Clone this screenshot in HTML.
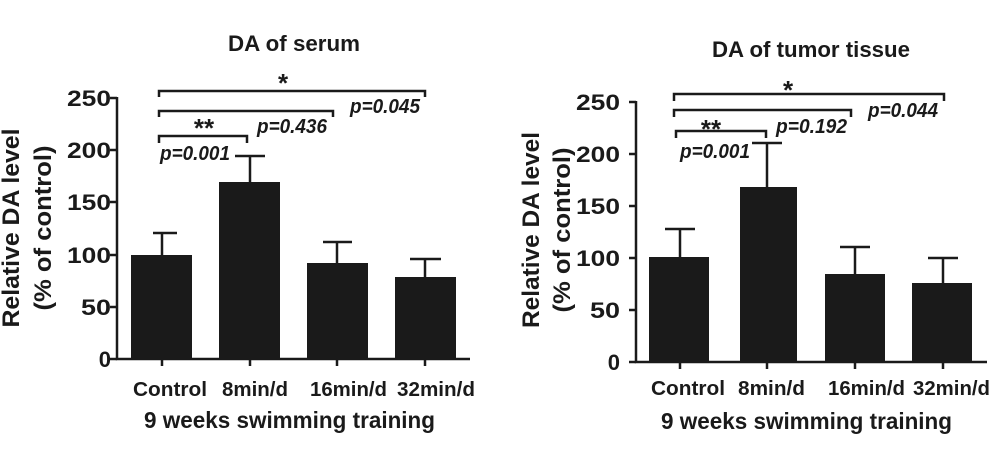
<!DOCTYPE html>
<html><head><meta charset="utf-8"><style>
html,body{margin:0;padding:0;background:#fff}
svg{display:block}
text{font-family:"Liberation Sans",Arial,sans-serif;font-weight:bold;fill:#1a1a1a}
.t{font-size:22px}
.it{font-style:italic;font-size:20px}
</style></head><body>
<svg width="1000" height="462" viewBox="0 0 1000 462">
<g stroke="#1a1a1a" fill="none" stroke-width="2.5">
<path d="M117,97 V359 H470"/>
<path d="M110,98H117 M110,150H117 M110,202H117 M110,255H117 M110,307H117 M110,359H117"/>
<path d="M162,359V366 M250,359V366 M337,359V366 M425,359V366"/>
<path d="M162,255V233 M153,233H177"/>
<path d="M250,182V156 M235,156H265"/>
<path d="M337,263V242 M323,242H352"/>
<path d="M425,277V259 M410,259H441"/>
<path d="M159,97V91H425V97"/>
<path d="M159,117V111H333V117"/>
<path d="M159,143V136H247V143"/>
<path d="M636,101 V362 H987"/>
<path d="M629,102H636 M629,154H636 M629,206H636 M629,258H636 M629,310H636 M629,362H636"/>
<path d="M680,362V369 M767,362V369 M855,362V369 M943,362V369"/>
<path d="M680,257V229 M665,229H695"/>
<path d="M767,187V143 M752,143H782"/>
<path d="M855,274V247 M840,247H870"/>
<path d="M943,283V258 M928,258H958"/>
<path d="M674,101V94H944V101"/>
<path d="M674,117V110H851V117"/>
<path d="M676,138V131H766V138"/>
</g>
<g fill="#1a1a1a">
<rect x="131" y="255" width="61" height="104"/>
<rect x="219" y="182" width="61" height="177"/>
<rect x="307" y="263" width="61" height="96"/>
<rect x="395" y="277" width="61" height="82"/>
<rect x="649" y="257" width="60" height="105"/>
<rect x="740" y="187" width="57" height="175"/>
<rect x="825" y="274" width="60" height="88"/>
<rect x="912" y="283" width="60" height="79"/>
</g>
<text x="228" y="51" font-size="22" textLength="132" lengthAdjust="spacingAndGlyphs">DA of serum</text>
<g class="t" text-anchor="end">
<text x="111" y="106" textLength="44" lengthAdjust="spacingAndGlyphs">250</text><text x="111" y="158" textLength="44" lengthAdjust="spacingAndGlyphs">200</text><text x="111" y="210" textLength="44" lengthAdjust="spacingAndGlyphs">150</text>
<text x="111" y="263" textLength="44" lengthAdjust="spacingAndGlyphs">100</text><text x="111" y="315" textLength="30" lengthAdjust="spacingAndGlyphs">50</text><text x="111" y="367">0</text>
</g>
<text transform="translate(19,228) rotate(-90)" font-size="24" text-anchor="middle" textLength="199" lengthAdjust="spacingAndGlyphs">Relative DA level</text>
<text transform="translate(51,228) rotate(-90)" font-size="24" text-anchor="middle" textLength="165" lengthAdjust="spacingAndGlyphs">(% of control)</text>
<text x="133" y="396" font-size="20" textLength="74" lengthAdjust="spacingAndGlyphs">Control</text>
<text x="222" y="396" font-size="20" textLength="66" lengthAdjust="spacingAndGlyphs">8min/d</text>
<text x="310" y="396" font-size="20" textLength="77" lengthAdjust="spacingAndGlyphs">16min/d</text>
<text x="397" y="396" font-size="20" textLength="78" lengthAdjust="spacingAndGlyphs">32min/d</text>
<text x="144" y="428" font-size="23" textLength="291" lengthAdjust="spacingAndGlyphs">9 weeks swimming training</text>
<text x="283" y="92" font-size="26" text-anchor="middle">*</text>
<text x="204" y="137" font-size="26" text-anchor="middle">**</text>
<text class="it" x="160" y="160" textLength="70" lengthAdjust="spacingAndGlyphs">p=0.001</text>
<text class="it" x="257" y="133" textLength="70" lengthAdjust="spacingAndGlyphs">p=0.436</text>
<text class="it" x="350" y="113" textLength="70" lengthAdjust="spacingAndGlyphs">p=0.045</text>
<text x="712" y="57" font-size="22" textLength="198" lengthAdjust="spacingAndGlyphs">DA of tumor tissue</text>
<g class="t" text-anchor="end">
<text x="620" y="110" textLength="44" lengthAdjust="spacingAndGlyphs">250</text><text x="620" y="162" textLength="44" lengthAdjust="spacingAndGlyphs">200</text><text x="620" y="214" textLength="44" lengthAdjust="spacingAndGlyphs">150</text>
<text x="620" y="266" textLength="44" lengthAdjust="spacingAndGlyphs">100</text><text x="620" y="318" textLength="30" lengthAdjust="spacingAndGlyphs">50</text><text x="620" y="370">0</text>
</g>
<text transform="translate(539,230) rotate(-90)" font-size="24" text-anchor="middle" textLength="196" lengthAdjust="spacingAndGlyphs">Relative DA level</text>
<text transform="translate(570,230) rotate(-90)" font-size="24" text-anchor="middle" textLength="165" lengthAdjust="spacingAndGlyphs">(% of control)</text>
<text x="651" y="395" font-size="20" textLength="74" lengthAdjust="spacingAndGlyphs">Control</text>
<text x="738" y="395" font-size="20" textLength="67" lengthAdjust="spacingAndGlyphs">8min/d</text>
<text x="828" y="395" font-size="20" textLength="77" lengthAdjust="spacingAndGlyphs">16min/d</text>
<text x="913" y="395" font-size="20" textLength="77" lengthAdjust="spacingAndGlyphs">32min/d</text>
<text x="661" y="429" font-size="23" textLength="291" lengthAdjust="spacingAndGlyphs">9 weeks swimming training</text>
<text x="788" y="99" font-size="26" text-anchor="middle">*</text>
<text x="711" y="138" font-size="26" text-anchor="middle">**</text>
<text class="it" x="680" y="158" textLength="70" lengthAdjust="spacingAndGlyphs">p=0.001</text>
<text class="it" x="776" y="133" textLength="71" lengthAdjust="spacingAndGlyphs">p=0.192</text>
<text class="it" x="868" y="117" textLength="70" lengthAdjust="spacingAndGlyphs">p=0.044</text>
</svg>
</body></html>
